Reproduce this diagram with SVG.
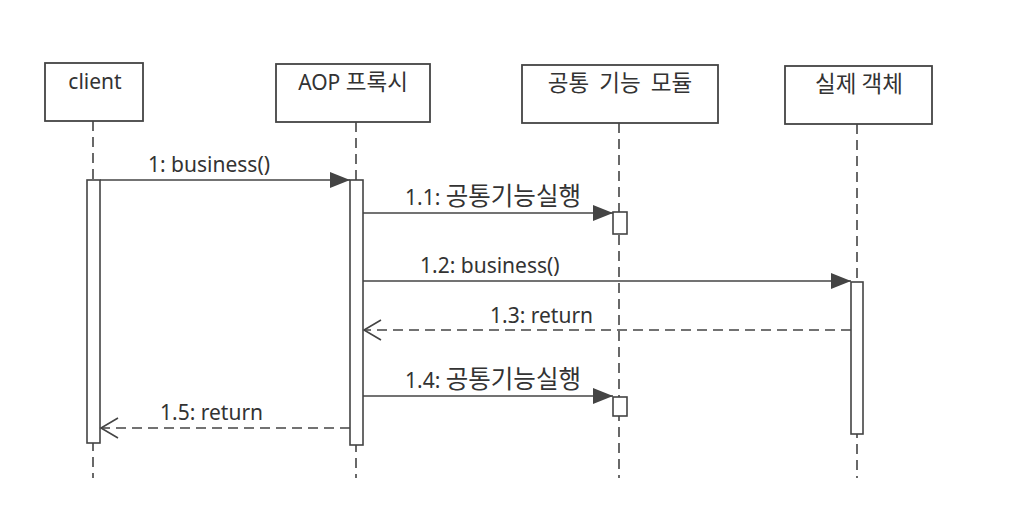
<svg xmlns="http://www.w3.org/2000/svg" width="1024" height="505" viewBox="0 0 1024 505">
<style>
.box{fill:#fff;stroke:#444;stroke-width:1.8}
.act{fill:#fff;stroke:#444;stroke-width:1.6}
.life{stroke:#444;stroke-width:1.6;stroke-dasharray:10 6;fill:none}
.msg{stroke:#444;stroke-width:1.6;fill:none}
.ret{stroke:#444;stroke-width:1.6;fill:none;stroke-dasharray:10 6}
.t{font-family:"Noto Sans","Noto Sans CJK KR",sans-serif;font-size:21px;fill:#333}
.k{font-family:"Noto Sans CJK KR",sans-serif;font-size:22.5px}
.km{font-family:"Noto Sans CJK KR",sans-serif;font-size:24.5px}
.c{text-anchor:middle}
</style>
<defs>
<marker id="fill" markerWidth="20" markerHeight="16" refX="20" refY="8" orient="auto" markerUnits="userSpaceOnUse">
<path d="M0,0 L20,8 L0,16 Z" fill="#444"/>
</marker>
<marker id="open" markerWidth="20" markerHeight="22" refX="18" refY="11" orient="auto" markerUnits="userSpaceOnUse">
<path d="M1,1 L18,11 L1,21" fill="none" stroke="#444" stroke-width="1.6"/>
</marker>
</defs>
<rect width="1024" height="505" fill="#fff"/>
<g id="client">
<rect class="box" x="45" y="63" width="98" height="58"/>
<text class="t c" x="95" y="89">client</text>
<line class="life" x1="93" y1="121" x2="93" y2="478"/>
<rect class="act" x="87" y="180" width="13" height="263"/>
</g>
<g id="aop">
<rect class="box" x="276" y="64" width="154" height="58"/>
<text class="t c" x="353" y="90">AOP <tspan class="k">프록시</tspan></text>
<line class="life" x1="356" y1="122" x2="356" y2="478"/>
<rect class="act" x="350" y="180" width="13" height="265"/>
</g>
<g id="module">
<rect class="box" x="522" y="65" width="196" height="58"/>
<text class="t k c" x="620" y="91" word-spacing="5">공통 기능 모듈</text>
<line class="life" x1="619" y1="123" x2="619" y2="478"/>
<rect class="act" x="613" y="212" width="14" height="22"/>
<rect class="act" x="613" y="397" width="14" height="19"/>
</g>
<g id="real">
<rect class="box" x="785" y="66" width="147" height="58"/>
<text class="t k c" x="859" y="92">실제 객체</text>
<line class="life" x1="857" y1="124" x2="857" y2="478"/>
<rect class="act" x="851" y="282" width="12" height="152"/>
</g>
<g id="connectors">
<line class="msg" x1="100" y1="180" x2="350" y2="180" marker-end="url(#fill)"/>
<text class="t" x="148" y="172">1: business()</text>
<line class="msg" x1="363" y1="213" x2="613" y2="213" marker-end="url(#fill)"/>
<text class="t" x="405" y="205">1.1: <tspan class="km">공통기능실행</tspan></text>
<line class="msg" x1="363" y1="281" x2="851" y2="281" marker-end="url(#fill)"/>
<text class="t" x="420" y="273">1.2: business()</text>
<line class="ret" x1="851" y1="330" x2="364" y2="330" marker-end="url(#open)"/>
<text class="t" x="490" y="323">1.3: return</text>
<line class="msg" x1="363" y1="396" x2="613" y2="396" marker-end="url(#fill)"/>
<text class="t" x="405" y="388">1.4: <tspan class="km">공통기능실행</tspan></text>
<line class="ret" x1="350" y1="428" x2="101" y2="428" marker-end="url(#open)"/>
<text class="t" x="160" y="420">1.5: return</text>
</g>
</svg>
